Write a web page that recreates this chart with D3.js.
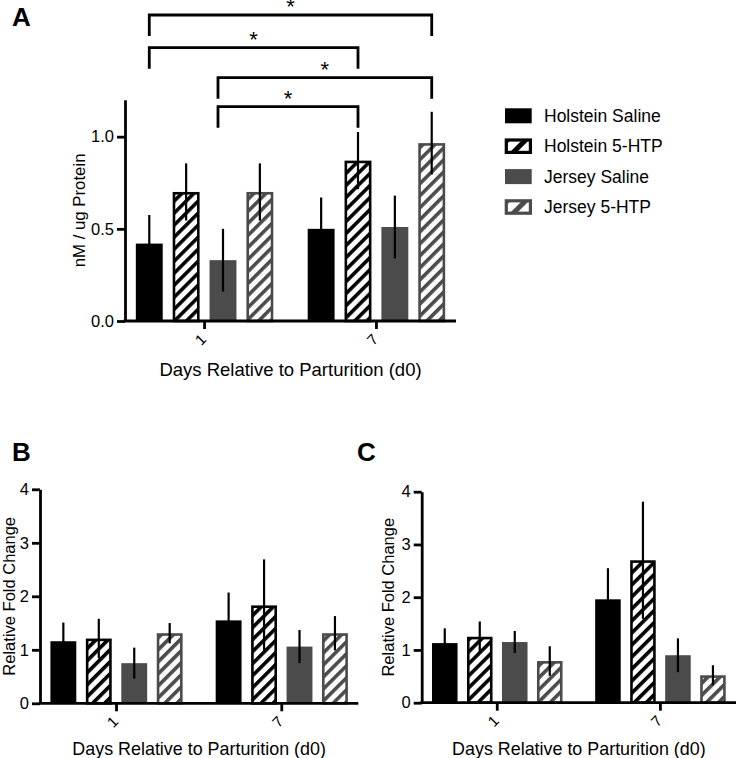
<!DOCTYPE html>
<html>
<head>
<meta charset="utf-8">
<script src="https://cdn.jsdelivr.net/npm/d3@7"></script>
<style>
  html, body { margin: 0; padding: 0; background: #fff; }
  svg { display: block; }
  text { font-family: "Liberation Sans", Arial, Helvetica, sans-serif; fill: #000; }
</style>
</head>
<body>
<svg id="fig" width="737" height="758"></svg>
<script>
// ---------------- DATA ----------------
const days = ["1", "7"];
const series = ["Holstein Saline", "Holstein 5-HTP", "Jersey Saline", "Jersey 5-HTP"];

// Panel A: nM / ug Protein (mean, SEM) per day, in series order
const meansA = { "1": [0.42, 0.70, 0.33, 0.70], "7": [0.50, 0.87, 0.51, 0.965] };
const semA   = { "1": [0.155, 0.155, 0.17, 0.155], "7": [0.17, 0.155, 0.17, 0.17] };

// Panel B: Relative Fold Change
const meansB = { "1": [1.16, 1.21, 0.75, 1.31], "7": [1.55, 1.83, 1.06, 1.31] };
const semB   = { "1": [0.35, 0.37, 0.29, 0.19], "7": [0.52, 0.86, 0.31, 0.32] };

// Panel C: Relative Fold Change
const meansC = { "1": [1.13, 1.25, 1.15, 0.79], "7": [1.96, 2.70, 0.90, 0.52] };
const semC   = { "1": [0.28, 0.29, 0.21, 0.28], "7": [0.59, 1.11, 0.32, 0.19] };

const yTicksA = [0, 0.5, 1.0];
const yTicksBC = [0, 1, 2, 3, 4];

// Significance comparisons in panel A (drawn top to bottom)
const bracketsA = [
  { from: ["1", "Holstein Saline"], to: ["7", "Jersey 5-HTP"], label: "*" },
  { from: ["1", "Holstein Saline"], to: ["7", "Holstein 5-HTP"], label: "*" },
  { from: ["1", "Jersey Saline"], to: ["7", "Jersey 5-HTP"], label: "*" },
  { from: ["1", "Jersey Saline"], to: ["7", "Holstein 5-HTP"], label: "*" }
];

const xTitle = "Days Relative to Parturition (d0)";

// ---------------- STYLE ----------------
const FONT = '"Liberation Sans", Arial, Helvetica, sans-serif';
const GRAY = "#4b4b4b";
const seriesStyle = [
  { fill: "#000", stroke: "none" },
  { fill: "url(#hatchK)", stroke: "#000" },
  { fill: GRAY, stroke: "none" },
  { fill: "url(#hatchG)", stroke: GRAY }
];
const AXW = 2.8;   // axis line width
const BSW = 2.6;   // bar outline width

const svg = d3.select("#fig");
svg.append("rect").attr("width", 737).attr("height", 758).attr("fill", "#fff");

const defs = svg.append("defs");
function makeHatch(id, color, period, stripe) {
  const p = defs.append("pattern").attr("id", id)
    .attr("patternUnits", "userSpaceOnUse")
    .attr("width", period).attr("height", period)
    .attr("patternTransform", "rotate(45)");
  p.append("rect").attr("width", period).attr("height", period).attr("fill", "#fff");
  p.append("rect").attr("x", 0).attr("y", 0).attr("width", stripe).attr("height", period).attr("fill", color);
}
makeHatch("hatchK", "#000", 8.5, 3.6);
makeHatch("hatchG", GRAY, 8.5, 3.6);
makeHatch("hatchKL", "#000", 13, 5);
makeHatch("hatchGL", GRAY, 13, 5);

// ---------------- PANEL ----------------
function drawPanel(cfg) {
  const g = svg.append("g");
  const x0 = d3.scaleBand().domain(days).range([cfg.left, cfg.right])
    .paddingInner(0.2).paddingOuter(0.063);
  const x1 = d3.scaleBand().domain(series).range([0, x0.bandwidth()])
    .paddingInner(0.27).paddingOuter(0);
  const y = d3.scaleLinear().domain([0, cfg.ymax]).range([cfg.bottom, cfg.top]);

  const rows = [];
  days.forEach(d => series.forEach((s, i) => {
    rows.push({ day: d, s, i, mean: cfg.means[d][i], sem: cfg.sems[d][i] });
  }));

  // bars
  g.selectAll("rect.bar").data(rows).join("rect")
    .attr("class", "bar")
    .each(function(r) {
      const st = seriesStyle[r.i];
      const bx = x0(r.day) + x1(r.s);
      const bw = x1.bandwidth();
      const el = d3.select(this);
      if (st.stroke === "none") {
        el.attr("x", bx).attr("width", bw)
          .attr("y", y(r.mean)).attr("height", y(0) - y(r.mean))
          .attr("fill", st.fill);
      } else {
        el.attr("x", bx + BSW / 2).attr("width", bw - BSW)
          .attr("y", y(r.mean) + BSW / 2).attr("height", y(0) - y(r.mean) - BSW / 2)
          .attr("fill", st.fill).attr("stroke", st.stroke).attr("stroke-width", BSW);
      }
    });

  // error bars
  g.selectAll("line.err").data(rows).join("line")
    .attr("class", "err")
    .attr("x1", r => x0(r.day) + x1(r.s) + x1.bandwidth() / 2)
    .attr("x2", r => x0(r.day) + x1(r.s) + x1.bandwidth() / 2)
    .attr("y1", r => y(Math.max(0, r.mean - r.sem)))
    .attr("y2", r => y(r.mean + r.sem))
    .attr("stroke", "#000").attr("stroke-width", 2.2);

  // y axis
  const ya = g.append("g").attr("transform", `translate(${cfg.left},0)`)
    .call(d3.axisLeft(y).tickValues(cfg.yticks).tickFormat(cfg.fmt)
      .tickSize(8).tickSizeOuter(0).tickPadding(3));
  ya.attr("font-size", null).attr("font-family", null);
  ya.select(".domain").attr("stroke-width", AXW).attr("stroke", "#000");
  ya.selectAll(".tick line").attr("stroke-width", AXW).attr("stroke", "#000");
  ya.selectAll(".tick text").attr("font-size", 16.5).attr("font-family", FONT).attr("fill", "#000");

  // x axis
  const xa = g.append("g").attr("transform", `translate(0,${cfg.bottom})`)
    .call(d3.axisBottom(x0).tickSize(8).tickSizeOuter(0));
  xa.attr("font-size", null).attr("font-family", null);
  xa.select(".domain").attr("stroke-width", AXW).attr("stroke", "#000")
    .attr("d", `M${cfg.left - AXW / 2},0H${cfg.right}`);
  xa.selectAll(".tick line").attr("stroke-width", AXW).attr("stroke", "#000");
  xa.selectAll(".tick text")
    .attr("font-size", 15).attr("font-family", FONT).attr("fill", "#000")
    .attr("y", 0).attr("dy", "0.35em").attr("text-anchor", "middle")
    .attr("transform", "translate(-4,18.5) rotate(-45)");

  // axis titles
  g.append("text")
    .attr("transform", `translate(${cfg.ylabelX},${(cfg.top + cfg.bottom) / 2}) rotate(-90)`)
    .attr("text-anchor", "middle").attr("dominant-baseline", "central")
    .attr("font-size", cfg.ylabelSize).text(cfg.ylabel);
  g.append("text")
    .attr("x", (cfg.left + cfg.right) / 2).attr("y", cfg.xTitleY)
    .attr("text-anchor", "middle").attr("font-size", cfg.xTitleSize).text(xTitle);

  // panel letter
  g.append("text").attr("x", cfg.letterX).attr("y", cfg.letterY)
    .attr("font-size", 26).attr("font-weight", "bold").text(cfg.letter);

  return { x0, x1, y, g };
}

// ---------------- PANEL A ----------------
const A = drawPanel({
  means: meansA, sems: semA, left: 125, right: 456, bottom: 321, top: 99.8, ymax: 1.2,
  yticks: yTicksA, fmt: d3.format(".1f"), ylabel: "nM / ug Protein", ylabelX: 79, ylabelSize: 16.8,
  xTitleY: 376, xTitleSize: 18.5, letter: "A", letterX: 12, letterY: 26
});

// significance brackets
const bracketY = [15, 47.7, 77.7, 106.7];
const legLen = 21;
const startNudge = [0, 0, -5, -5];
bracketsA.forEach((b, k) => {
  const cx = (pair) => A.x0(pair[0]) + A.x1(pair[1]) + A.x1.bandwidth() / 2;
  const xa = cx(b.from) + startNudge[k];
  const xb = cx(b.to);
  const yy = bracketY[k];
  A.g.append("path")
    .attr("d", `M${xa},${yy + legLen}V${yy}H${xb}V${yy + legLen}`)
    .attr("fill", "none").attr("stroke", "#000").attr("stroke-width", AXW)
    .attr("stroke-linejoin", "miter");
  A.g.append("text").attr("x", (xa + xb) / 2).attr("y", yy - 1)
    .attr("text-anchor", "middle").attr("font-size", 22).text(b.label);
});

// legend
const leg = svg.append("g").attr("transform", "translate(505,108.3)");
series.forEach((s, i) => {
  const row = leg.append("g").attr("transform", `translate(0,${i * 30.4})`);
  const st = seriesStyle[i];
  if (st.stroke === "none") {
    row.append("rect").attr("width", 26.7).attr("height", 15).attr("fill", st.fill);
  } else {
    row.append("rect").attr("x", BSW / 2).attr("y", BSW / 2)
      .attr("width", 26.7 - BSW).attr("height", 15 - BSW)
      .attr("fill", i === 1 ? "url(#hatchKL)" : "url(#hatchGL)")
      .attr("stroke", st.stroke).attr("stroke-width", BSW + 0.6);
  }
  row.append("text").attr("x", 39).attr("y", 7.5).attr("dominant-baseline", "central")
    .attr("font-size", 17.5).text(s);
});

// ---------------- PANEL B ----------------
drawPanel({
  means: meansB, sems: semB, left: 40, right: 358.3, bottom: 703.3, top: 489.3, ymax: 4,
  yticks: yTicksBC, fmt: d3.format("d"), ylabel: "Relative Fold Change", ylabelX: 8.5, ylabelSize: 16.5,
  xTitleY: 755, xTitleSize: 17.9, letter: "B", letterX: 12, letterY: 460.7
});

// ---------------- PANEL C ----------------
drawPanel({
  means: meansC, sems: semC, left: 421.7, right: 736, bottom: 702.7, top: 491.7, ymax: 4,
  yticks: yTicksBC, fmt: d3.format("d"), ylabel: "Relative Fold Change", ylabelX: 388, ylabelSize: 16.5,
  xTitleY: 755, xTitleSize: 17.9, letter: "C", letterX: 357, letterY: 460.7
});
</script>
</body>
</html>
